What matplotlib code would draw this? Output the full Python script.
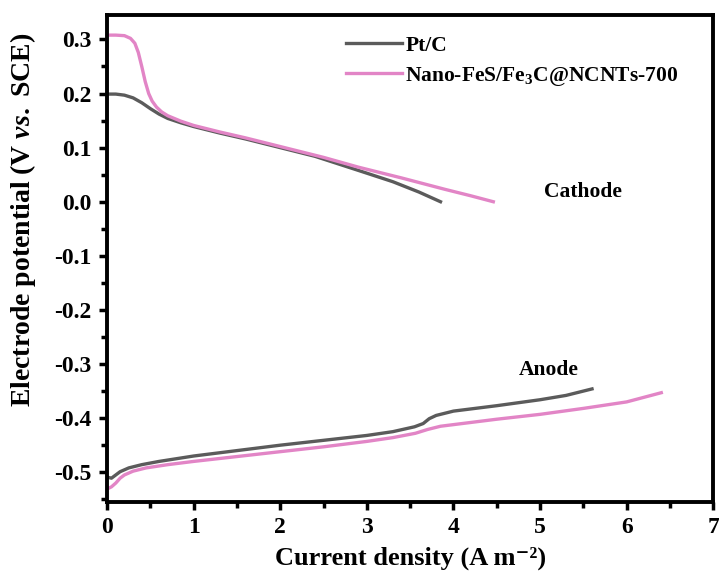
import numpy as np
import matplotlib.pyplot as plt

plt.rcParams['font.family'] = ['Liberation Serif', 'DejaVu Serif']
plt.rcParams['font.weight'] = 'bold'
plt.rcParams['mathtext.fontset'] = 'custom'
plt.rcParams['mathtext.rm'] = 'Liberation Serif:bold'
plt.rcParams['mathtext.it'] = 'Liberation Serif:italic:bold'
plt.rcParams['mathtext.bf'] = 'Liberation Serif:bold'

# cathode polarization curves
ptc_cat_x = [0.0, 0.1, 0.2, 0.3, 0.4, 0.5, 0.6, 0.7, 0.85, 1.0, 1.3, 1.6, 2.0, 2.4, 2.9, 3.3, 3.6, 3.85]
ptc_cat_y = [0.199, 0.199, 0.197, 0.192, 0.183, 0.172, 0.162, 0.154, 0.146, 0.139, 0.127, 0.116, 0.100, 0.084, 0.058, 0.037, 0.018, 0.0]

nano_cat_x = [0.0, 0.1, 0.2, 0.27, 0.32, 0.36, 0.40, 0.44, 0.48, 0.52, 0.57, 0.63, 0.7, 0.85, 1.0, 1.3, 1.6, 2.0, 2.5, 2.9, 3.4, 3.9, 4.2, 4.46]
nano_cat_y = [0.308, 0.308, 0.307, 0.302, 0.293, 0.276, 0.250, 0.222, 0.200, 0.186, 0.175, 0.166, 0.159, 0.149, 0.141, 0.129, 0.118, 0.102, 0.082, 0.064, 0.044, 0.023, 0.011, 0.0]

# anode polarization curves
ptc_an_x = [0.0, 0.05, 0.1, 0.15, 0.25, 0.4, 0.6, 1.0, 1.5, 2.0, 2.5, 3.0, 3.3, 3.55, 3.65, 3.72, 3.8, 3.9, 4.0, 4.5, 5.0, 5.3, 5.6]
ptc_an_y = [-0.509, -0.511, -0.505, -0.499, -0.492, -0.486, -0.480, -0.470, -0.460, -0.450, -0.441, -0.432, -0.425, -0.416, -0.410, -0.401, -0.395, -0.391, -0.387, -0.377, -0.366, -0.358, -0.346]

nano_an_x = [0.0, 0.05, 0.1, 0.15, 0.2, 0.3, 0.45, 0.7, 1.0, 1.5, 2.0, 2.5, 3.0, 3.3, 3.56, 3.7, 3.85, 4.0, 4.5, 5.0, 5.5, 6.0, 6.4]
nano_an_y = [-0.531, -0.527, -0.520, -0.511, -0.505, -0.498, -0.492, -0.486, -0.480, -0.471, -0.462, -0.453, -0.443, -0.436, -0.428, -0.421, -0.415, -0.412, -0.402, -0.393, -0.382, -0.370, -0.353]

y_ticks = [-0.5, -0.4, -0.3, -0.2, -0.1, 0.0, 0.1, 0.2, 0.3]
y_labels = ['-0.5', '-0.4', '-0.3', '-0.2', '-0.1', '0.0', '0.1', '0.2', '0.3']

grey = '#5b5b5b'
pink = '#e285c6'

fig = plt.figure(figsize=(7.19, 5.81), dpi=100)
ax = fig.add_axes([0.149, 0.136, 0.843, 0.838])

ax.plot(ptc_cat_x, ptc_cat_y, color=grey, lw=2.4, label='Pt/C')
ax.plot(nano_cat_x, nano_cat_y, color=pink, lw=2.4, label=r'Nano-FeS/Fe$_3$C@NCNTs-700')
ax.plot(ptc_an_x, ptc_an_y, color=grey, lw=2.4)
ax.plot(nano_an_x, nano_an_y, color=pink, lw=2.4)

ax.text(5.05, 0.0, 'Cathode', fontsize=15.5, fontweight='bold', va='bottom')
ax.text(5.44, -0.33, 'Anode', fontsize=15.5, fontweight='bold', va='bottom', ha='right')

ax.set_xlim(0, 7)
ax.set_ylim(-0.555, 0.345)
ax.set_xticks(np.arange(0, 8, 1))
ax.set_xticks(np.arange(0.5, 7, 1), minor=True)
ax.set_yticks(y_ticks)
ax.set_yticks(np.arange(-0.55, 0.35, 0.1), minor=True)
ax.set_yticklabels(y_labels)

ax.tick_params(which='major', direction='out', length=6, width=2.5, labelsize=17, pad=5)
ax.tick_params(which='minor', direction='out', length=4, width=2.5)
for s in ax.spines.values():
    s.set_linewidth(2.8)

ax.set_xlabel('Current density (A m⁻²)', fontsize=19, fontweight='bold', labelpad=6)
ax.set_ylabel(r'Electrode potential (V $\mathit{vs.}$ SCE)', fontsize=20, fontweight='bold')
ax.yaxis.set_label_coords(-0.114, 0.58)

ax.legend(loc='upper left', bbox_to_anchor=(0.38, 0.975), frameon=False, fontsize=15.5,
          handlelength=2.6, handletextpad=0.15, labelspacing=0.4, borderaxespad=0)

fig.savefig('out.png', dpi=100)
